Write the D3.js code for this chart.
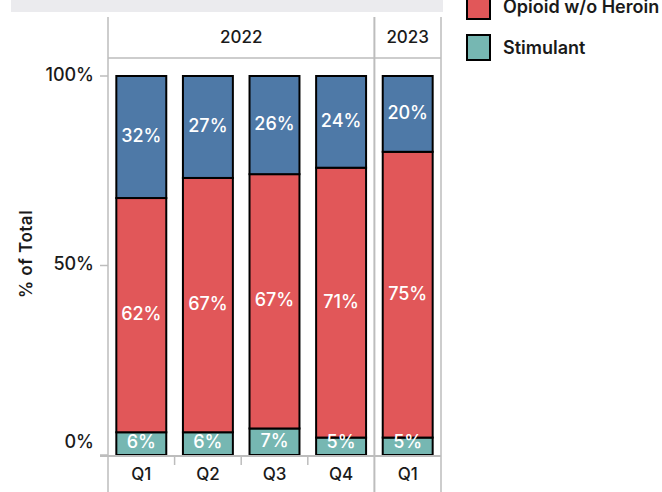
<!DOCTYPE html>
<html lang="en">
<head>
    <meta charset="UTF-8">
    <script src="https://d3js.org/d3.v7.min.js"></script>
    <title>Share by drug type</title>
    <style>
        body { margin: 0; background: #fff; }
        text { font-family: Inter, "Open Sans", sans-serif; }
    </style>
</head>
<body>
    <svg width="662" height="492" id="chart"></svg>
    <script>
        // data
        const years = ["2022", "2022", "2022", "2022", "2023"];
        const quarters = ["Q1", "Q2", "Q3", "Q4", "Q1"];
        const stimulant = [0.060, 0.060, 0.070, 0.046, 0.046];
        const opioid = [0.618, 0.671, 0.671, 0.712, 0.754];
        const heroin = [0.322, 0.269, 0.259, 0.242, 0.200];
        const seriesNames = ["Heroin", "Opioid w/o Heroin", "Stimulant"];
        const seriesColors = ["#4e79a7", "#e15759", "#76b7b2"];
        const yTicks = [0, 0.5, 1];

        let svg = d3.select("#chart");
        let grid = "#bdbdbd";
        let ink = "#1a1a1a";

        let keys = quarters.map((q, i) => years[i] + "-" + q);
        let x = d3.scaleBand().domain(keys).range([108, 441]).paddingInner(0.25).paddingOuter(0.125);
        let y = d3.scaleLinear().domain([0, 1]).range([455, 76]);
        let color = d3.scaleOrdinal().domain(seriesNames).range(seriesColors);
        let pct = d3.format(".0%");

        // grey strip at top (cut off title area)
        svg.append("rect")
            .attr("x", 11).attr("y", 0).attr("width", 432).attr("height", 12)
            .attr("fill", "#ebebee");

        // year headers
        let yearGroups = d3.groups(keys.map((k, i) => ({k: k, year: years[i]})), d => d.year);
        let x0 = x.range()[0];
        yearGroups.forEach((g, gi) => {
            let first = x(g[1][0].k) - x.step() * x.paddingInner() / 2;
            let last = x(g[1][g[1].length - 1].k) + x.bandwidth() + x.step() * x.paddingInner() / 2;
            if (gi == 0) first = x0;
            if (gi == yearGroups.length - 1) last = x.range()[1];
            svg.append("text")
                .attr("x", (first + last) / 2)
                .attr("y", 38)
                .attr("text-anchor", "middle")
                .attr("dominant-baseline", "middle")
                .attr("fill", ink)
                .style("font-size", "17px")
                .style("font-weight", "500")
                .text(g[0]);
            // separators
            svg.append("line")
                .attr("x1", last).attr("x2", last)
                .attr("y1", 17).attr("y2", 492)
                .attr("stroke", grid).attr("stroke-width", gi == yearGroups.length - 1 ? 1.5 : 2);
        });

        // left pane border
        svg.append("line")
            .attr("x1", x0).attr("x2", x0).attr("y1", 17).attr("y2", 492)
            .attr("stroke", grid).attr("stroke-width", 1.5);
        // header bottom line
        svg.append("line")
            .attr("x1", x0).attr("x2", 441).attr("y1", 58).attr("y2", 58)
            .attr("stroke", grid).attr("stroke-width", 1.5);

        // y axis ticks
        yTicks.forEach(t => {
            svg.append("line")
                .attr("x1", 100).attr("x2", x0)
                .attr("y1", y(t)).attr("y2", y(t))
                .attr("stroke", grid).attr("stroke-width", 1.5);
            svg.append("text")
                .attr("x", 94)
                .attr("y", t == 0 ? y(t) - 12 : y(t))
                .attr("text-anchor", "end")
                .attr("dominant-baseline", "middle")
                .attr("fill", ink)
                .style("font-size", "18px")
                .style("font-weight", "500")
                .text(pct(t));
        });

        svg.append("text")
            .attr("transform", "translate(27,254) rotate(-90)")
            .attr("text-anchor", "middle")
            .attr("dominant-baseline", "middle")
            .attr("fill", ink)
            .style("font-size", "17px")
            .style("font-weight", "600")
            .style("letter-spacing", "0.5px")
            .text("% of Total");

        // stacked bars
        let rows = keys.map((k, i) => ({key: k, "Heroin": heroin[i], "Opioid w/o Heroin": opioid[i], "Stimulant": stimulant[i]}));
        let stack = d3.stack().keys(["Stimulant", "Opioid w/o Heroin", "Heroin"])(rows);

        stack.forEach(layer => {
            svg.append("g").selectAll("rect")
                .data(layer)
                .join("rect")
                .attr("x", d => x(d.data.key))
                .attr("y", d => y(d[1]))
                .attr("width", x.bandwidth())
                .attr("height", d => y(d[0]) - y(d[1]))
                .attr("fill", color(layer.key))
                .attr("stroke", "#000")
                .attr("stroke-width", 2);
        });
        stack.forEach(layer => {
            svg.append("g").selectAll("text")
                .data(layer)
                .join("text")
                .attr("x", d => x(d.data.key) + x.bandwidth() / 2)
                .attr("y", d => Math.min((y(d[0]) + y(d[1])) / 2, y(0) - 12))
                .attr("text-anchor", "middle")
                .attr("dominant-baseline", "middle")
                .attr("fill", "#fff")
                .style("font-size", "18px")
                .style("font-weight", "500")
                .text(d => pct(d[1] - d[0]));
        });

        // x axis
        svg.append("line")
            .attr("x1", 100).attr("x2", 441).attr("y1", 456).attr("y2", 456)
            .attr("stroke", grid).attr("stroke-width", 2);
        keys.forEach((k, i) => {
            if (i > 0 && years[i] == years[i - 1]) {
                let bx = x(k) - x.step() * x.paddingInner() / 2;
                svg.append("line")
                    .attr("x1", bx).attr("x2", bx).attr("y1", 456).attr("y2", 465)
                    .attr("stroke", grid).attr("stroke-width", 1.5);
            }
            svg.append("text")
                .attr("x", x(k) + x.bandwidth() / 2)
                .attr("y", 475)
                .attr("text-anchor", "middle")
                .attr("dominant-baseline", "middle")
                .attr("fill", ink)
                .style("font-size", "17px")
                .style("font-weight", "500")
                .text(quarters[i]);
        });

        // legend (top part cut off)
        seriesNames.forEach((s, i) => {
            let ly = -6 + (i - 1) * 41;
            svg.append("rect")
                .attr("x", 467).attr("y", ly)
                .attr("width", 23).attr("height", 25)
                .attr("fill", color(s))
                .attr("stroke", "#000").attr("stroke-width", 2);
            svg.append("text")
                .attr("x", 503).attr("y", ly + 14)
                .attr("dominant-baseline", "middle")
                .attr("fill", ink)
                .style("font-size", "18px")
                .style("font-weight", "600")
                .text(s);
        });
    </script>
</body>
</html>
